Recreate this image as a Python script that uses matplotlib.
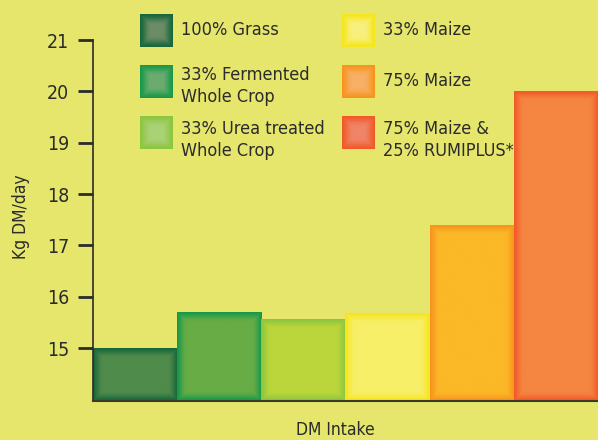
import numpy as np
import matplotlib
matplotlib.use("Agg")
import matplotlib.pyplot as plt
from matplotlib import font_manager
from matplotlib.colors import to_rgb

# ---------------- data ----------------
categories = ["100% Grass", "33% Fermented\nWhole Crop", "33% Urea treated\nWhole Crop",
              "33% Maize", "75% Maize", "75% Maize &\n25% RUMIPLUS*"]
values = [15.0, 15.70, 15.55, 15.67, 17.38, 20.0]
yticks = [15, 16, 17, 18, 19, 20, 21]
ylabel = "Kg DM/day"
xlabel = "DM Intake"

edge_colors = ["#17663A", "#17994A", "#8CC63F", "#F5E61C", "#F7941D", "#F15A29"]
fill_colors = ["#4F8B4B", "#67AC45", "#BBD63A", "#F8EF68", "#FBB827", "#F58642"]
legend_fill = ["#6C8C66", "#6CAC70", "#AAD276", "#F8F07E", "#F8B066", "#F08466"]

BG = "#E5E66B"
TXT = "#2B2B2B"

avail = {f.name for f in font_manager.fontManager.ttflist}
if "Liberation Sans Narrow" in avail:
    FONT = dict(family="Liberation Sans Narrow")
else:
    FONT = dict(family="DejaVu Sans", stretch="condensed")

W, H = 598, 440
fig = plt.figure(figsize=(W / 100, H / 100), dpi=100, facecolor=BG)

def glow(nx, ny, edge, center, gpx, power=1.0):
    nx, ny = max(int(nx), 2), max(int(ny), 2)
    x = np.arange(nx) + 0.5
    y = np.arange(ny) + 0.5
    dx = np.minimum(x, nx - x)
    dy = np.minimum(y, ny - y)
    d = np.minimum(dx[None, :], dy[:, None])
    t = np.clip(d / gpx, 0, 1)
    t = t * t * (3 - 2 * t)
    t = t ** power
    e = np.array(to_rgb(edge)); c = np.array(to_rgb(center))
    return e * (1 - t[..., None]) + c * t[..., None]

# ---------------- main axes ----------------
ymin, ymax = 13.97, 21.0
ax = fig.add_axes([93 / W, 1 - 401 / H, (W - 93) / W, 361 / H])
ax.set_facecolor(BG)
x = np.arange(len(values))
bars = ax.bar(x, np.array(values) - ymin, bottom=ymin, width=1.0, color="none", linewidth=0)
ax.set_xlim(-0.5, len(values) - 0.5)
ax.set_ylim(ymin, ymax)
for b, ec, fc in zip(bars, edge_colors, fill_colors):
    x0, y0 = b.get_x(), b.get_y()
    x1, y1 = x0 + b.get_width(), y0 + b.get_height()
    (px0, py0), (px1, py1) = ax.transData.transform([[x0, y0], [x1, y1]])
    img = glow(px1 - px0, py1 - py0, ec, fc, 10, power=0.8)
    ax.imshow(img, extent=(x0, x1, y0, y1), origin="lower", aspect="auto",
              interpolation="bilinear", zorder=2)
ax.set_xlim(-0.5, len(values) - 0.5)
ax.set_ylim(ymin, ymax)

ax.set_yticks(yticks)
ax.set_yticklabels([str(v) for v in yticks], color=TXT, fontsize=14, **FONT)
ax.tick_params(axis="y", direction="out", length=11, width=2, color=TXT, pad=6)
ax.set_xticks([])
for s in ["top", "right"]:
    ax.spines[s].set_visible(False)
ax.spines["left"].set_color(TXT)
ax.spines["left"].set_linewidth(1.2)
ax.spines["left"].set_bounds(ymin, ymax)
ax.spines["bottom"].set_color("#3A3A2A")
ax.spines["bottom"].set_linewidth(1.5)
ax.spines["bottom"].set_zorder(5)

fig.text(21 / W, 1 - 217 / H, ylabel, rotation=90, ha="center", va="center",
         fontsize=12.5, color=TXT, **FONT)
fig.text(335 / W, 1 - 430 / H, xlabel, ha="center", va="center",
         fontsize=12.5, color=TXT, **FONT)

# ---------------- legend (pixel-coordinate overlay) ----------------
ov = fig.add_axes([0, 0, 1, 1], facecolor="none")
ov.set_xlim(0, W)
ov.set_ylim(H, 0)
ov.axis("off")
sq_x = [140, 140, 140, 342, 342, 342]
sq_y = [14, 65, 116, 14, 65, 116]
txt_y = [30, 66, 120, 30, 81, 120]
txt_va = ["center", "top", "top", "center", "center", "top"]
sq = 33
for i, lab in enumerate(categories):
    img = glow(sq * 2, sq * 2, edge_colors[i], legend_fill[i], 22, power=0.9)
    ov.imshow(img, extent=(sq_x[i], sq_x[i] + sq, sq_y[i] + sq, sq_y[i]),
              origin="upper", aspect="auto", interpolation="bilinear")
    ov.text(sq_x[i] + 41, txt_y[i], lab, ha="left", va=txt_va[i], fontsize=13,
            color=TXT, linespacing=1.25, **FONT)
ov.set_xlim(0, W)
ov.set_ylim(H, 0)

fig.savefig("out.png", dpi=100, facecolor=BG)
